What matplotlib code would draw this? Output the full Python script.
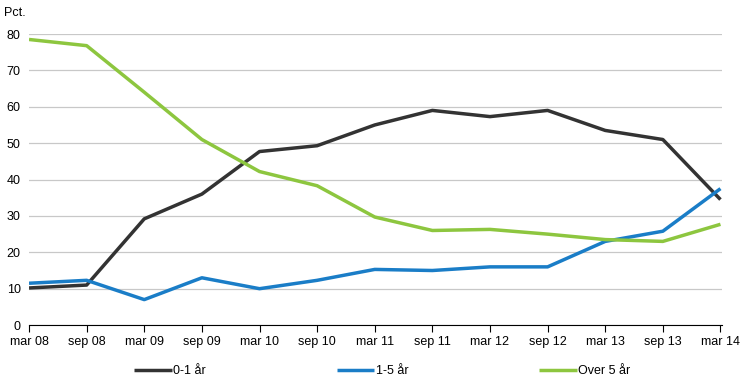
import matplotlib
matplotlib.use("Agg")
import matplotlib.pyplot as plt

plt.rcParams['font.family'] = ['Liberation Sans', 'DejaVu Sans']

# Data
periods = ["mar 08", "sep 08", "mar 09", "sep 09", "mar 10", "sep 10", "mar 11",
           "sep 11", "mar 12", "sep 12", "mar 13", "sep 13", "mar 14"]
short = [10.2, 11.0, 29.2, 36.0, 47.7, 49.3, 55.0, 59.0, 57.3, 59.0, 53.5, 51.0, 34.5]
mid = [11.5, 12.3, 7.0, 13.0, 10.0, 12.3, 15.3, 15.0, 16.0, 16.0, 23.0, 25.8, 37.5]
long_ = [78.5, 76.8, 64.0, 51.0, 42.2, 38.3, 29.7, 26.0, 26.3, 25.0, 23.5, 23.0, 27.7]
labels = ["0-1 år", "1-5 år", "Over 5 år"]
colors = ["#333333", "#1a7dc7", "#8dc63f"]

fig = plt.figure(figsize=(7.52, 3.78), dpi=100)
ax = fig.add_axes([0.0386, 0.14, 0.921, 0.77])

x = range(len(periods))
for series, lab, col in zip([short, mid, long_], labels, colors):
    ax.plot(x, series, color=col, lw=2.5, label=lab, solid_capstyle="butt")

ax.set_xlim(0, len(periods) - 1 + 0.02)
ax.set_ylim(0, 80)
ax.set_yticks(range(0, 81, 10))
ax.set_xticks(list(x))
ax.set_xticklabels(periods)
ax.grid(axis="y", color="#c8c8c8", lw=0.9)
ax.set_axisbelow(True)
for s in ["top", "right", "left"]:
    ax.spines[s].set_visible(False)
ax.spines["bottom"].set_color("black")
ax.tick_params(axis="y", length=0, labelsize=9, pad=6)
ax.tick_params(axis="x", length=5, direction="out", labelsize=9, pad=3)

fig.text(0.005, 0.965, "Pct.", fontsize=9, ha="left", va="center")

ax.legend(loc="upper center", bbox_to_anchor=(0.51, -0.1), ncol=3, frameon=False,
          fontsize=9, handlelength=3.0, handletextpad=0.1, columnspacing=10.5)

fig.savefig("out.png", dpi=100)
